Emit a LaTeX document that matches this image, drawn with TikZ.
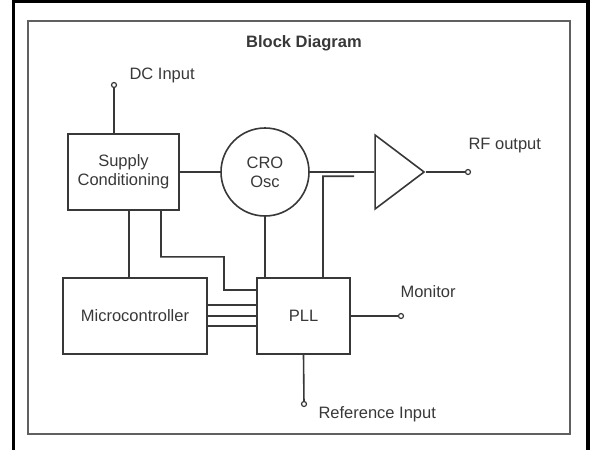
\documentclass[tikz,border=0pt]{standalone}
\usepackage{fontspec}
\setmainfont{Liberation Sans}
\usetikzlibrary{shapes.geometric}
\definecolor{ink}{rgb}{0.22,0.22,0.22}
\tikzset{
	every node/.style={font=\fontsize{16.5}{19}\selectfont, text=ink},
	wire/.style={draw=ink, line width=1.6pt},
	block/.style={draw=ink, line width=1.6pt, rectangle, inner sep=0pt, align=center},
	osc/.style={draw=ink, line width=1.6pt, circle, inner sep=0pt, minimum size=88pt, align=center},
	amp/.style={draw=ink, line width=1.6pt, isosceles triangle, isosceles triangle stretches,
		shape border rotate=0, inner sep=0pt, minimum width=74pt, minimum height=49pt},
	term/.style={draw=ink, line width=1.2pt, circle, fill=white, inner sep=0pt, minimum size=5pt},
}

\begin{document}
\begin{tikzpicture}[x=1pt, y=-1pt]
		\useasboundingbox (0,0) rectangle (595,450);
		\draw[black, line width=3.5pt] (13.5,450) -- (13.5,1.5) -- (588,1.5) -- (588,450);
		\draw[ink!80, line width=2pt] (28,21) rectangle (570,434);

		\node[font=\fontsize{16.5}{19}\selectfont\bfseries] (title) at (304,43) {Block Diagram};

		\node[block, minimum width=111pt, minimum height=76pt] (supply) at (123.5,172) {Supply\\Conditioning};
		\node[osc] (cro) at (265,172) {CRO\\Osc};
		\node[amp] (amp) at (393.5,172) {};
		\node[block, minimum width=144pt, minimum height=76pt] (micro) at (135,316) {Microcontroller};
		\node[block, minimum width=93pt, minimum height=76pt] (pll) at (303.5,316) {PLL};

		\node[term] (dcin) at (114,85) {};
		\node[term] (rfout) at (468,172) {};
		\node[term] (mon) at (401,316) {};
		\node[term] (ref) at (304,404) {};

		\node[anchor=west] (dclabel) at (126,75) {DC Input};
		\node[anchor=west] (rflabel) at (465,146) {RF output};
		\node[anchor=west] (monlabel) at (397,292) {Monitor};
		\node[anchor=west] (reflabel) at (315,414) {Reference Input};

		\draw[wire] (dcin) -- (dcin |- supply.north)
		(supply) -- (cro)
		(cro) -- (amp.west)
		(amp.apex) -- (rfout)
		(cro.south) -- (cro.south |- pll.north)
		([xshift=-6pt]micro.north) -- ([xshift=-6pt]micro.north |- supply.south)
		([xshift=37.5pt]supply.south) |- ++(63,46) |- ([yshift=26pt]pll.west)
		([xshift=19.5pt]pll.north) |- ++(31,-101)
		(pll) -- (mon)
		(pll.south) -- (ref);
		\foreach \dy in {11,0,-10}
			\draw[wire] ([yshift=\dy pt]micro.east) -- ([yshift=\dy pt]micro.east -| pll.west);
	\end{tikzpicture}
\end{document}
